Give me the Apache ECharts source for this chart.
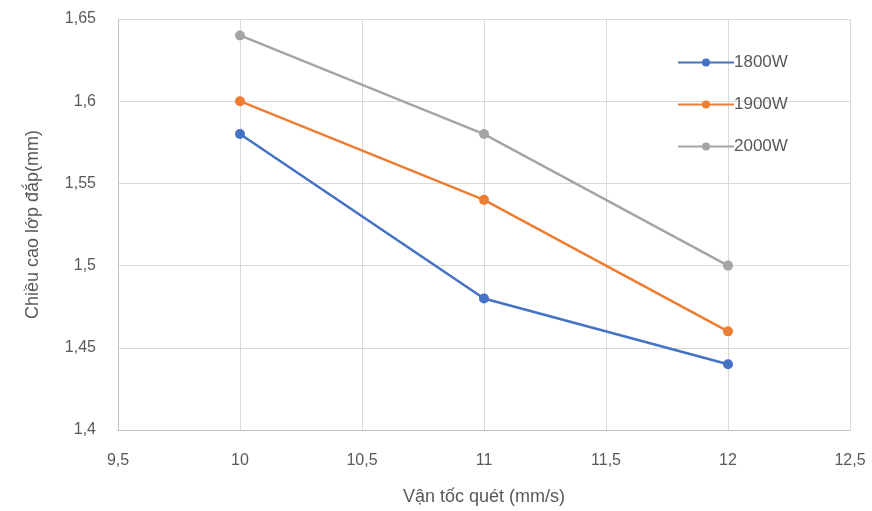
<!DOCTYPE html>
<html><head><meta charset="utf-8">
<script src="https://cdn.jsdelivr.net/npm/echarts@6/dist/echarts.min.js"></script>
<style>html,body{margin:0;padding:0;background:#fff}#c{width:872px;height:511px}</style>
</head><body><div id="c"></div>
<script>
const xValues = [10, 11, 12];
const s1800 = [1.58, 1.48, 1.44];
const s1900 = [1.60, 1.54, 1.46];
const s2000 = [1.64, 1.58, 1.50];
const seriesNames = ['1800W', '1900W', '2000W'];
const colors = ['#4472C4', '#ED7D31', '#A5A5A5'];
const fmt = v => String(+v.toFixed(2)).replace('.', ',');
const chart = echarts.init(document.getElementById('c'));
const mk = (name, vals, color) => ({
  name, type: 'line', data: xValues.map((x, i) => [x, vals[i]]),
  symbol: 'circle', symbolSize: 10, lineStyle: { width: 2.5, color }, itemStyle: { color }
});
chart.setOption({
  animation: false,
  textStyle: { fontFamily: 'Liberation Sans, Arial, sans-serif' },
  grid: { left: 118, right: 22, top: 19, bottom: 81 },
  legend: {
    orient: 'vertical', left: 672, top: 49, itemGap: 25, itemWidth: 56, itemHeight: 10,
    data: seriesNames,
    textStyle: { fontSize: 17, color: '#595959', padding: [0, 0, 0, -5] }
  },
  xAxis: {
    type: 'value', min: 9.5, max: 12.5, interval: 0.5,
    name: 'Vận tốc quét (mm/s)', nameLocation: 'middle', nameGap: 58,
    nameTextStyle: { fontSize: 18, color: '#595959' },
    axisLine: { show: true, lineStyle: { color: '#BFBFBF' } },
    axisTick: { show: false },
    axisLabel: { fontSize: 16, color: '#595959', margin: 23, formatter: fmt },
    splitLine: { show: true, lineStyle: { color: '#D9D9D9' } }
  },
  yAxis: {
    type: 'value', min: 1.4, max: 1.65, interval: 0.05,
    name: 'Chiều cao lớp đắp(mm)', nameLocation: 'middle', nameGap: 76,
    nameTextStyle: { fontSize: 18, color: '#595959' },
    axisLine: { show: true, lineStyle: { color: '#BFBFBF' } },
    axisTick: { show: false },
    axisLabel: { fontSize: 16, color: '#595959', margin: 22, formatter: fmt },
    splitLine: { show: true, lineStyle: { color: '#D9D9D9' } }
  },
  series: [mk(seriesNames[0], s1800, colors[0]), mk(seriesNames[1], s1900, colors[1]), mk(seriesNames[2], s2000, colors[2])]
});
</script></body></html>
